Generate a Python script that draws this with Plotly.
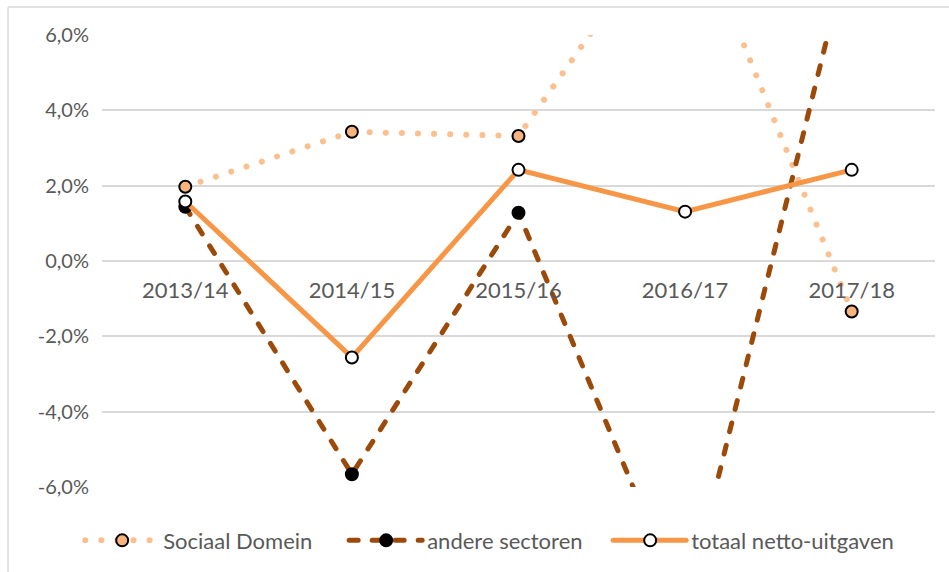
import plotly.graph_objects as go

categories = ["2013/14", "2014/15", "2015/16", "2016/17", "2017/18"]
sociaal_domein = [1.97, 3.43, 3.32, 9.6, -1.34]
andere_sectoren = [1.44, -5.66, 1.28, -9.3, 8.56]
totaal_netto = [1.58, -2.56, 2.42, 1.31, 2.42]
y_ticks = [-6, -4, -2, 0, 2, 4, 6]
y_tick_labels = ["-6,0%", "-4,0%", "-2,0%", "0,0%", "2,0%", "4,0%", "6,0%"]

FONT = "Lato"
GRAY = "#595959"
GRID = "#d9d9d9"
ITEMW = 72

fig = go.Figure()
fig.add_trace(go.Scatter(
    x=categories, y=sociaal_domein, name="Sociaal Domein", mode="lines+markers",
    line=dict(color="#FAC08F", width=6, dash="0.1px,16px"),
    marker=dict(size=12, color="#F8B47E", line=dict(color="black", width=2)),
))
fig.add_trace(go.Scatter(
    x=categories, y=andere_sectoren, name="andere sectoren", mode="lines+markers",
    line=dict(color="#9C4A0A", width=5, dash="9px,14px"),
    marker=dict(size=12, color="black", line=dict(color="black", width=2)),
))
fig.add_trace(go.Scatter(
    x=categories, y=totaal_netto, name="totaal netto-uitgaven", mode="lines+markers",
    line=dict(color="#F79646", width=5),
    marker=dict(size=12, color="white", line=dict(color="black", width=2)),
))

# chart-area frame (left and top edges visible)
frame = dict(type="line", xref="paper", yref="paper", line=dict(color=GRID, width=1.5))
fig.add_shape(x0=-0.1128, x1=-0.1128, y0=1.0617, y1=-0.2, **frame)
fig.add_shape(x0=-0.1128, x1=1.1, y0=1.0617, y1=1.0617, **frame)

fig.update_layout(
    width=949, height=572,
    margin=dict(l=102, r=14, t=35, b=83.5),
    paper_bgcolor="white", plot_bgcolor="white",
    font=dict(family=FONT, color=GRAY, size=20),
    showlegend=True,
    legend=dict(orientation="h", x=-0.025, xanchor="left", y=-0.116, yanchor="middle",
                font=dict(family=FONT, size=22, color=GRAY), itemwidth=ITEMW,
                entrywidth=177, bgcolor="rgba(0,0,0,0)"),
    xaxis=dict(type="category", range=[-0.5, 4.5], anchor="free", position=0.5,
               showgrid=False, showline=False, zeroline=False, ticks="",
               tickfont=dict(family=FONT, size=22, color=GRAY),
               ticklabelstandoff=14, automargin=False),
    yaxis=dict(range=[-6, 6], tickvals=y_ticks, ticktext=y_tick_labels,
               showgrid=True, gridcolor=GRID, gridwidth=1.5, zeroline=False,
               showline=False, ticks="", ticklabelstandoff=12, automargin=False,
               tickfont=dict(family=FONT, size=20, color=GRAY)),
)

post = """
document.body.style.margin = '0';
var gd = document.getElementById('{plot_id}');
gd.querySelectorAll('.scatterlayer .js-line').forEach(function(p){
  p.style.strokeLinecap = 'round';
});
gd.querySelectorAll('.legendlines path').forEach(function(p){
  p.style.strokeLinecap = 'round';
  p.setAttribute('d', 'M4,0h%d');
});
gd.querySelectorAll('.legendpoints path').forEach(function(p){
  p.setAttribute('transform', 'translate(%d,0)');
});
gd.querySelectorAll('.legend .scrollbox, .legend').forEach(function(g){
  g.removeAttribute('clip-path');
});
""" % (ITEMW + 1, (ITEMW + 10) // 2)
fig.write_html("out.html", post_script=post, config={"displayModeBar": False})
